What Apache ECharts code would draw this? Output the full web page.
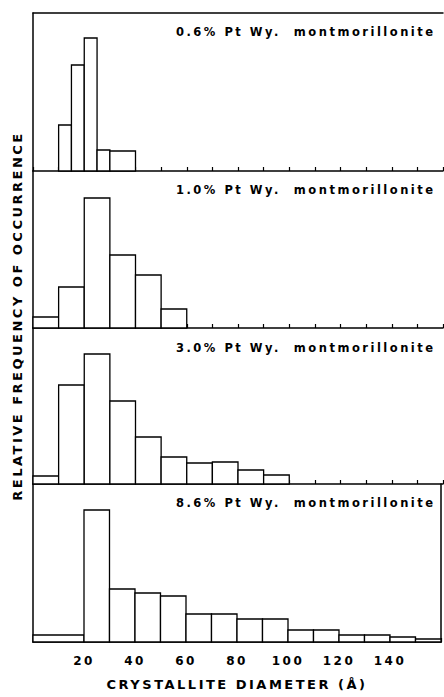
<!DOCTYPE html>
<html>
<head>
<meta charset="utf-8">
<script src="https://cdn.jsdelivr.net/npm/echarts@6/dist/echarts.min.js"></script>
<style>
  html, body { margin: 0; padding: 0; background: #fff; }
  #chart { width: 444px; height: 697px; }
  #chart text { letter-spacing: 2.5px; }
</style>
</head>
<body>
<div id="chart"></div>
<script>
// Bin edges (crystallite diameter, Å) and relative frequency (arbitrary units) per panel
const panelTitles = [
  '0.6% Pt Wy.  montmorillonite',
  '1.0% Pt Wy.  montmorillonite',
  '3.0% Pt Wy.  montmorillonite',
  '8.6% Pt Wy.  montmorillonite'
];
const edges1 = [10, 15, 20, 25, 30, 40];
const values1 = [46, 106, 133, 21, 20];
const edges2 = [0, 10, 20, 30, 40, 50, 60];
const values2 = [11, 41, 130, 73, 53, 19];
const edges3 = [0, 10, 20, 30, 40, 50, 60, 70, 80, 90, 100];
const values3 = [8, 99, 130, 83, 47, 27, 21, 22, 14, 9];
const edges4 = [0, 20, 30, 40, 50, 60, 70, 80, 90, 100, 110, 120, 130, 140, 150, 160];
const values4 = [7, 132, 53, 49, 46, 28, 28, 23, 23, 12, 12, 7, 7, 5, 3];
const tickLabels = [20, 40, 60, 80, 100, 120, 140];
const xName = 'CRYSTALLITE DIAMETER (Å)';
const yName = 'RELATIVE FREQUENCY OF OCCURRENCE';

const allEdges = [edges1, edges2, edges3, edges4];
const allValues = [values1, values2, values3, values4];

const FONT = '"DejaVu Sans", Verdana, sans-serif';
const gridTops = [13, 171, 328, 484];
const gridHeights = [158, 157, 156, 158];
const titleTops = [26, 184, 342, 497];

function binsData(edges, vals) {
  return vals.map((v, i) => [edges[i], edges[i + 1], v]);
}

const grids = [], xAxes = [], yAxes = [], series = [], titles = [];
for (let p = 0; p < 4; p++) {
  grids.push({ left: 33, width: 410, top: gridTops[p], height: gridHeights[p], containLabel: false });
  const isLast = p === 3;
  xAxes.push({
    type: 'value', gridIndex: p, min: 0, max: 160, interval: 10,
    axisLine: { show: true, lineStyle: { color: '#000', width: 1.5 } },
    axisTick: { show: true, inside: true, length: 4, lineStyle: { color: '#000', width: 1.2 } },
    splitLine: { show: false },
    axisLabel: {
      show: isLast, margin: 13, color: '#000', fontSize: 12, fontWeight: 'bold', fontFamily: FONT,
      formatter: v => tickLabels.indexOf(v) >= 0 ? String(v) : ''
    },
    name: isLast ? xName : '', nameLocation: 'middle', nameGap: 36,
    nameTextStyle: { color: '#000', fontSize: 13, fontWeight: 'bold', fontFamily: FONT }
  });
  yAxes.push({
    type: 'value', gridIndex: p, min: 0, max: gridHeights[p],
    axisLine: { show: true, onZero: false, lineStyle: { color: '#000', width: 1.5 } },
    axisTick: { show: false }, axisLabel: { show: false }, splitLine: { show: false }
  });
  series.push({
    type: 'custom', xAxisIndex: p, yAxisIndex: p,
    data: binsData(allEdges[p], allValues[p]),
    encode: { x: [0, 1], y: 2 },
    renderItem: function (params, api) {
      const s = api.coord([api.value(0), 0]);
      const e = api.coord([api.value(1), api.value(2)]);
      return {
        type: 'rect',
        shape: { x: s[0], y: e[1], width: e[0] - s[0], height: s[1] - e[1] },
        style: { fill: '#fff', stroke: '#000', lineWidth: 1.3 }
      };
    },
    silent: true, animation: false
  });
  titles.push({
    text: panelTitles[p], left: 176, top: titleTops[p], padding: 0,
    textStyle: { color: '#000', fontSize: 11.5, fontWeight: 'bold', fontFamily: FONT }
  });
}
// top border of first panel and right border of last panel
xAxes.push({
  type: 'value', gridIndex: 0, min: 0, max: 160, position: 'top',
  axisLine: { show: true, lineStyle: { color: '#000', width: 1.5 } },
  axisTick: { show: false }, axisLabel: { show: false }, splitLine: { show: false }
});
yAxes.push({
  type: 'value', gridIndex: 3, min: 0, max: gridHeights[3], position: 'right',
  axisLine: { show: true, onZero: false, lineStyle: { color: '#000', width: 1.5 } },
  axisTick: { show: false }, axisLabel: { show: false }, splitLine: { show: false }
});

const chart = echarts.init(document.getElementById('chart'), null, { renderer: 'svg' });
chart.setOption({
  animation: false,
  backgroundColor: '#fff',
  title: titles,
  grid: grids,
  xAxis: xAxes,
  yAxis: yAxes,
  series: series,
  graphic: [{
    type: 'text', x: 17, y: 316, rotation: Math.PI / 2,
    style: {
      text: yName, fill: '#000', font: 'bold 13px ' + FONT,
      textAlign: 'center', textVerticalAlign: 'middle'
    }
  }]
});
</script>
</body>
</html>
